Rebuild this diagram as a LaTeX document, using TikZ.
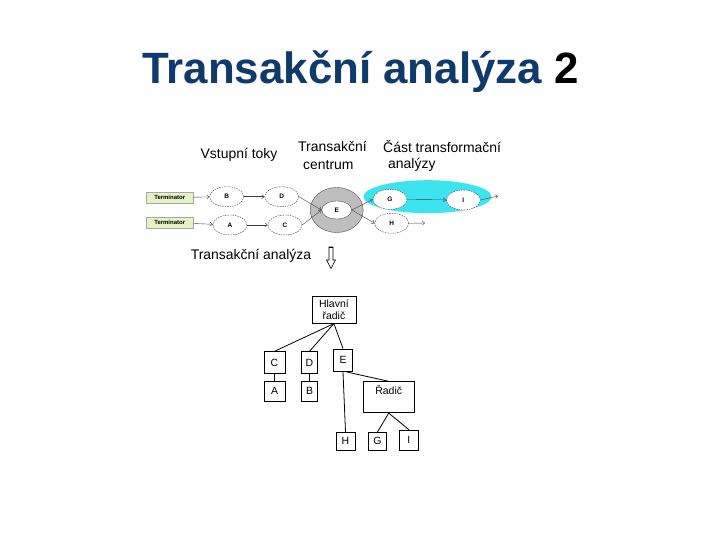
\documentclass[tikz,border=0pt]{standalone}
\usepackage{fontspec}
\setmainfont{Liberation Sans}
\usetikzlibrary{arrows.meta,shapes.geometric}
\definecolor{titleblue}{HTML}{0F3A6C}
\definecolor{termgreen}{HTML}{E4F2C4}
\definecolor{ringgray}{HTML}{BEBEBE}
\definecolor{cyanfill}{HTML}{3CE4F0}
\begin{document}
\begin{tikzpicture}[x=1bp,y=-1bp,
  box/.style={draw=black, line width=0.8bp, fill=white, inner sep=0pt, font=\fontsize{10.5}{12}\selectfont},
  term/.style={draw=gray!70, fill=termgreen, minimum width=47bp, minimum height=11.5bp, inner sep=0pt, font=\fontsize{6}{7}\selectfont\bfseries},
  proc/.style={ellipse, draw=gray!50!black, dashed, dash pattern=on 1.5bp off 1bp, line width=0.4bp, fill=white, minimum width=34bp, minimum height=20bp, inner sep=0pt, font=\fontsize{6.5}{7}\selectfont\bfseries},
  flow/.style={draw=gray!50!black, line width=0.4bp, -{Straight Barb[length=2.5bp,width=4bp]}},
  tree/.style={draw=black, line width=0.8bp},
  lbl/.style={font=\fontsize{14}{16}\selectfont, inner sep=0pt}
]
\useasboundingbox (0,0) rectangle (720,540);
\fill[white] (0,0) rectangle (720,540);

% title
\node[anchor=base, inner sep=0pt, font=\fontsize{44}{50}\selectfont\bfseries] (title) at (360.5,84) {\textcolor{titleblue}{Transakční analýza} 2};

% labels
\node[lbl] (vst) at (239,155) {Vstupní toky};
\node[lbl, anchor=west] (tc1) at (298,146) {Transakční};
\node[lbl, anchor=west] (tc2) at (303,165) {centrum};
\node[lbl, anchor=west] (ct1) at (383,146) {Část transformační};
\node[lbl, anchor=west] (ct2) at (388,165) {analýzy};
\node[lbl] (ta) at (251,256) {Transakční analýza};

% top flow diagram
\node[ellipse, fill=cyanfill, minimum width=128bp, minimum height=33bp, inner sep=0pt] (cy) at (427.5,196.7) {};
\node[ellipse, draw=gray!60!black, line width=0.4bp, fill=ringgray, minimum width=53bp, minimum height=45bp, inner sep=0pt] (ring) at (336.7,210) {};
\node[ellipse, draw=black!70, line width=0.4bp, fill=white, minimum width=30bp, minimum height=18bp, inner sep=0pt, font=\fontsize{6.5}{7}\selectfont\bfseries] (E) at (336.7,210) {E};

\node[term] (t1) at (169.7,197.5) {Terminator};
\node[term] (t2) at (169.7,222.5) {Terminator};
\node[proc] (B) at (226.7,196.7) {B};
\node[proc] (D) at (281.7,196.7) {D};
\node[proc] (A) at (230,225) {A};
\node[proc] (C) at (285,225) {C};
\node[proc] (G) at (390,199.3) {G};
\node[proc] (I) at (463.3,200) {I};
\node[proc] (H) at (391.7,223.3) {H};
\coordinate (out1) at (498,196);
\coordinate (out2) at (425,223);

\draw[flow] (t1) -- (B);
\draw[flow] (B) -- (D);
\draw[flow] (D.east) -- (E.west);
\draw[flow] (t2) -- (A);
\draw[flow] (A) -- (C);
\draw[flow] (C.east) -- (E.west);
\draw[flow] (E.east) -- (G.west);
\draw[flow] (E.east) -- (H.west);
\draw[flow] (G) -- (I);
\draw[flow] (I.east) -- (out1);
\draw[flow] (H.east) -- (out2);

% down arrow
\draw[line width=0.6bp, fill=white] (329,247) -- (333,247) -- (333,260) -- (335.5,260) -- (331,268.5) -- (326.5,260) -- (329,260) -- cycle;
\draw[line width=1.2bp] (329,247.3) -- (333,247.3);

% tree
\node[box, minimum width=44bp, minimum height=27bp, align=center] (hl) at (333.9,309.7) {Hlavní\\řadič};
\node[box, minimum width=21bp, minimum height=21.6bp] (tC) at (274.5,362.5) {C};
\node[box, minimum width=21bp, minimum height=19.3bp] (tA) at (274.5,391.3) {A};
\node[box, minimum width=15.6bp, minimum height=21.6bp] (tD) at (309.5,362.5) {D};
\node[box, minimum width=15.6bp, minimum height=19.3bp] (tB) at (309.5,391.3) {B};
\node[box, minimum width=19.4bp, minimum height=22.7bp] (tE) at (343,360.3) {E};
\node[box, minimum width=50.7bp, minimum height=31bp, text height=8bp, text depth=14bp] (tR) at (388.7,397.2) {Řadič};
\node[box, minimum width=19bp, minimum height=17.7bp] (tH) at (345.5,441.2) {H};
\node[box, minimum width=18.4bp, minimum height=17.7bp] (tG) at (377.5,441.2) {G};
\node[box, minimum width=19bp, minimum height=20bp] (tI) at (408.8,440) {I};

\draw[tree] (hl.south) -- (tC.north);
\draw[tree] (hl.south) -- (tD.north);
\draw[tree] (hl.south) -- (tE.north);
\draw[tree] (tC.south) -- (tA.north);
\draw[tree] (tD.south) -- (tB.north);
\draw[tree] (tE.south) -- (tH.north);
\draw[tree] ([xshift=4bp]tE.south) -- (tR.north);
\draw[tree] (tR.south) -- (tG.north);
\draw[tree] (tR.south) -- (tI.north);
\end{tikzpicture}
\end{document}
